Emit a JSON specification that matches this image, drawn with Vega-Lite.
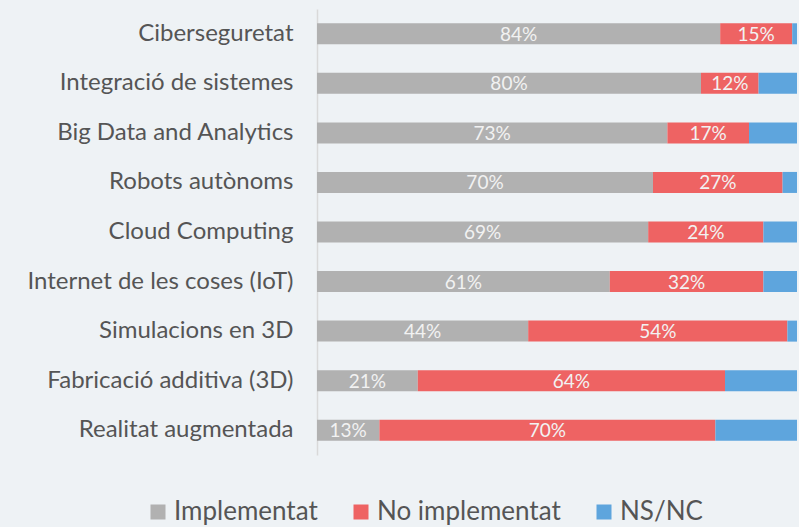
{
  "$schema": "https://vega.github.io/schema/vega-lite/v6.json",
  "width": 480,
  "height": 446,
  "autosize": {"type": "none"},
  "padding": {"left": 317, "top": 9, "right": 2, "bottom": 72},
  "background": "#eef2f5",
  "config": {"view": {"stroke": null}, "font": "Lato"},
  "data": {
    "values": [
      {"cat": "Ciberseguretat", "serie": "Implementat", "o": 1, "v": 0.84},
      {"cat": "Ciberseguretat", "serie": "No implementat", "o": 2, "v": 0.15},
      {"cat": "Ciberseguretat", "serie": "NS/NC", "o": 3, "v": 0.01},
      {"cat": "Integració de sistemes", "serie": "Implementat", "o": 1, "v": 0.80},
      {"cat": "Integració de sistemes", "serie": "No implementat", "o": 2, "v": 0.12},
      {"cat": "Integració de sistemes", "serie": "NS/NC", "o": 3, "v": 0.08},
      {"cat": "Big Data and Analytics", "serie": "Implementat", "o": 1, "v": 0.73},
      {"cat": "Big Data and Analytics", "serie": "No implementat", "o": 2, "v": 0.17},
      {"cat": "Big Data and Analytics", "serie": "NS/NC", "o": 3, "v": 0.10},
      {"cat": "Robots autònoms", "serie": "Implementat", "o": 1, "v": 0.70},
      {"cat": "Robots autònoms", "serie": "No implementat", "o": 2, "v": 0.27},
      {"cat": "Robots autònoms", "serie": "NS/NC", "o": 3, "v": 0.03},
      {"cat": "Cloud Computing", "serie": "Implementat", "o": 1, "v": 0.69},
      {"cat": "Cloud Computing", "serie": "No implementat", "o": 2, "v": 0.24},
      {"cat": "Cloud Computing", "serie": "NS/NC", "o": 3, "v": 0.07},
      {"cat": "Internet de les coses (IoT)", "serie": "Implementat", "o": 1, "v": 0.61},
      {"cat": "Internet de les coses (IoT)", "serie": "No implementat", "o": 2, "v": 0.32},
      {"cat": "Internet de les coses (IoT)", "serie": "NS/NC", "o": 3, "v": 0.07},
      {"cat": "Simulacions en 3D", "serie": "Implementat", "o": 1, "v": 0.44},
      {"cat": "Simulacions en 3D", "serie": "No implementat", "o": 2, "v": 0.54},
      {"cat": "Simulacions en 3D", "serie": "NS/NC", "o": 3, "v": 0.02},
      {"cat": "Fabricació additiva (3D)", "serie": "Implementat", "o": 1, "v": 0.21},
      {"cat": "Fabricació additiva (3D)", "serie": "No implementat", "o": 2, "v": 0.64},
      {"cat": "Fabricació additiva (3D)", "serie": "NS/NC", "o": 3, "v": 0.15},
      {"cat": "Realitat augmentada", "serie": "Implementat", "o": 1, "v": 0.13},
      {"cat": "Realitat augmentada", "serie": "No implementat", "o": 2, "v": 0.70},
      {"cat": "Realitat augmentada", "serie": "NS/NC", "o": 3, "v": 0.17}
    ]
  },
  "encoding": {
    "y": {
      "field": "cat", "type": "nominal", "sort": null, "title": null,
      "scale": {"paddingInner": 0.576, "paddingOuter": 0.288},
      "axis": {"ticks": false, "domainColor": "#d9d9d9", "domainWidth": 1.5, "labelFontSize": 24, "labelColor": "#555555", "labelPadding": 24, "labelFont": "Lato", "labelLimit": 400}
    },
    "x": {
      "field": "v", "type": "quantitative", "stack": "zero",
      "scale": {"domain": [0, 1], "nice": false},
      "axis": null
    },
    "order": {"field": "o", "type": "quantitative"}
  },
  "layer": [
    {
      "mark": {"type": "bar"},
      "encoding": {
        "color": {
          "field": "serie", "type": "nominal", "title": null,
          "scale": {"domain": ["Implementat", "No implementat", "NS/NC"], "range": ["#b1b1b1", "#ee6363", "#5ea5dd"]},
          "legend": {
            "orient": "none", "direction": "horizontal", "legendX": -172, "legendY": 490,
            "symbolType": "square", "symbolSize": 225, "symbolStrokeWidth": 0, "symbolOpacity": 1,
            "labelFontSize": 26, "labelColor": "#555555", "labelFont": "Lato", "columnPadding": 30, "labelOffset": 3, "labelLimit": 400
          }
        }
      }
    },
    {
      "transform": [{"filter": "datum.serie !== 'NS/NC'"}],
      "mark": {"type": "text", "color": "#f2f2f2", "fontSize": 19, "font": "Lato", "baseline": "middle", "align": "center", "dy": 1},
      "encoding": {
        "x": {"field": "v", "type": "quantitative", "stack": "zero", "bandPosition": 0.5},
        "text": {"field": "v", "type": "quantitative", "format": ".0%"}
      }
    }
  ]
}
